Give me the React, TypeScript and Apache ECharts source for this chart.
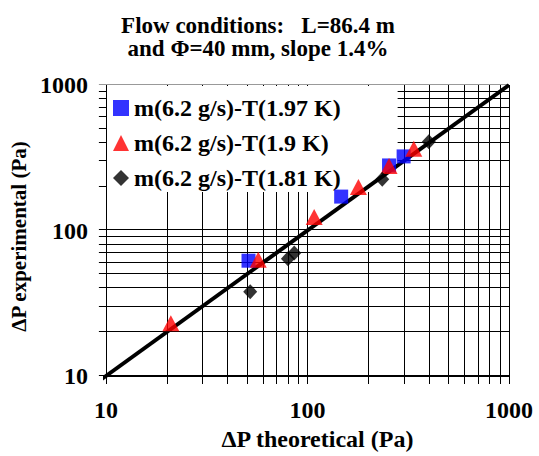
import React, { useEffect, useRef } from "react";
import * as echarts from "echarts";

const titleLines = ["Flow conditions:   L=86.4 m", "and \u03A6=40 mm, slope 1.4%"];
const seriesNames = ["m(6.2 g/s)-T(1.97 K)", "m(6.2 g/s)-T(1.9 K)", "m(6.2 g/s)-T(1.81 K)"];
const xName = "\u0394P theoretical (Pa)";
const yName = "\u0394P experimental (Pa)";

const blueData = [[51, 62], [147, 171], [254, 280], [300, 323]];
const redData = [[21, 23], [57, 63], [108, 124], [179, 199], [254, 277], [337, 364]];
const blackData = [[52, 38], [80, 64], [86, 70], [235, 225], [400, 408]];
const fitLine = [[9.3, 9.3], [1000, 1000]];
const gridValues = [10, 20, 30, 40, 50, 60, 70, 80, 90, 100, 200, 300, 400, 500, 600, 700, 800, 900, 1000];

const FONT = "'Liberation Serif', 'Times New Roman', serif";

export default function App() {
  const ref = useRef<HTMLDivElement>(null);
  useEffect(() => {
    document.body.style.margin = "0";
    if (!ref.current) return;
    const chart = echarts.init(ref.current, null, { renderer: "svg" });
    const labelStyle = { color: "#000", fontSize: 24, fontWeight: "bold" as const, fontFamily: FONT };
    chart.setOption({
      animation: false,
      backgroundColor: "#fff",
      grid: { left: 101, right: 30, top: 85, bottom: 73, containLabel: false },
      graphic: [
        {
          type: "text",
          x: 258,
          y: 37,
          z: 10,
          style: {
            text: titleLines.join("\n"),
            fill: "#000",
            font: `bold 23px ${FONT}`,
            lineHeight: 23.5,
            textAlign: "center",
            textVerticalAlign: "middle",
            verticalAlign: "middle",
          },
        },
      ],
      legend: {
        orient: "vertical",
        left: 107,
        top: 86,
        z: 2,
        padding: [10, 57, 2, 6],
        backgroundColor: "#fff",
        itemWidth: 16,
        itemHeight: 16,
        itemGap: 11,
        selectedMode: false,
        textStyle: { ...labelStyle },
        data: [
          { name: seriesNames[0], icon: "rect" },
          { name: seriesNames[1], icon: "triangle" },
          { name: seriesNames[2], icon: "diamond" },
        ],
      },
      xAxis: {
        type: "log",
        logBase: 10,
        min: 10,
        max: 1000,
        name: xName,
        nameLocation: "middle",
        nameGap: 51,
        nameTextStyle: { ...labelStyle, padding: [0, 0, 0, 20] },
        axisLine: { show: true, lineStyle: { color: "#000", width: 1 } },
        axisTick: { show: false },
        splitLine: { show: false },
        axisLabel: { ...labelStyle, margin: 22, formatter: (v: number) => String(Math.round(v)) },
      },
      yAxis: {
        type: "log",
        logBase: 10,
        min: 10,
        max: 1000,
        name: yName,
        nameLocation: "middle",
        nameGap: 62,
        nameTextStyle: { ...labelStyle, fontSize: 21, padding: [0, 12, 0, 0] },
        axisLine: { show: true, lineStyle: { color: "#000", width: 1 } },
        axisTick: { show: false },
        splitLine: { show: false },
        axisLabel: { ...labelStyle, margin: 18, formatter: (v: number) => String(Math.round(v)) },
      },
      series: [
        {
          type: "custom",
          name: "vgrid",
          coordinateSystem: "cartesian2d",
          silent: true,
          clip: false,
          z: 1,
          encode: { x: 0, y: 1 },
          data: gridValues.map((v) => [v, 10]),
          renderItem: (_p: any, api: any) => {
            const v = api.value(0);
            const b = api.coord([v, 10]);
            const t = api.coord([v, 1000]);
            const x = Math.round(b[0]) + 0.5;
            return {
              type: "line",
              shape: { x1: x, y1: b[1] + 8, x2: x, y2: t[1] },
              style: { stroke: "#000", lineWidth: 1 },
            };
          },
        },
        {
          type: "custom",
          name: "hgrid",
          coordinateSystem: "cartesian2d",
          silent: true,
          clip: false,
          z: 1,
          encode: { x: 0, y: 1 },
          data: gridValues.map((v) => [10, v]),
          renderItem: (_p: any, api: any) => {
            const v = api.value(1);
            const l = api.coord([10, v]);
            const r = api.coord([1000, v]);
            const y = Math.round(l[1]) - 0.5;
            return {
              type: "line",
              shape: { x1: l[0] - 7, y1: y, x2: r[0], y2: y },
              style: { stroke: v === 1000 ? "#999" : "#000", lineWidth: 1 },
            };
          },
        },
        {
          type: "line",
          name: "fit",
          data: fitLine,
          symbol: "none",
          clip: false,
          silent: true,
          z: 3,
          lineStyle: { color: "#000", width: 4 },
        },
        {
          type: "scatter",
          name: seriesNames[0],
          data: blueData,
          symbol: "rect",
          symbolSize: 14,
          itemStyle: { color: "#0000ff" },
          z: 4,
        },
        {
          type: "scatter",
          name: seriesNames[1],
          data: redData,
          symbol: "triangle",
          symbolSize: [17, 16],
          itemStyle: { color: "#ff0000" },
          z: 4,
        },
        {
          type: "scatter",
          name: seriesNames[2],
          data: blackData,
          symbol: "diamond",
          symbolSize: [14, 15],
          itemStyle: { color: "#000" },
          z: 4,
        },
      ],
    });
    return () => chart.dispose();
  }, []);
  return <div ref={ref} style={{ width: 539, height: 456 }} />;
}
